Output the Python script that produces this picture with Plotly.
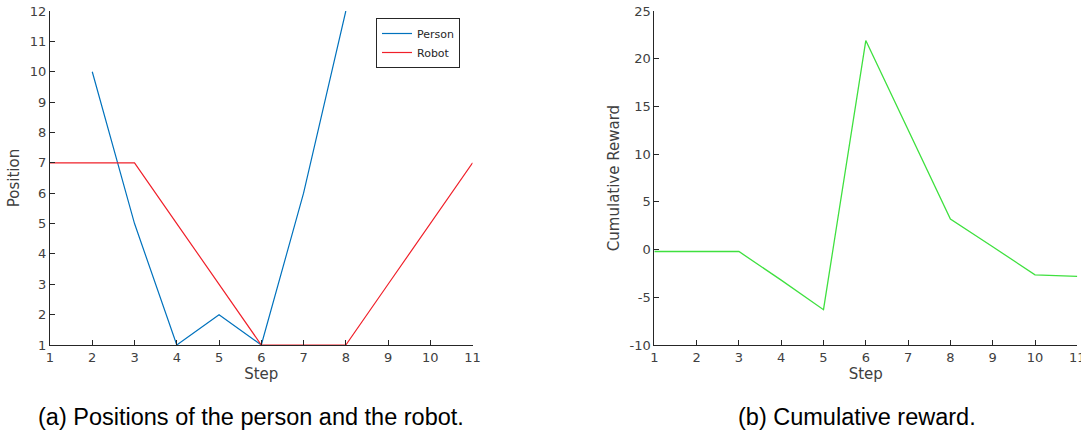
import plotly.graph_objects as go

steps = list(range(1, 12))
person_steps = [2, 3, 4, 5, 6, 7, 8]
person_pos = [10, 5, 1, 2, 1, 6, 12]
robot_pos = [7, 7, 7, 5, 3, 1, 1, 1, 3, 5, 7]
reward = [-0.2, -0.2, -0.2, -3.2, -6.3, 21.9, 12.5, 3.2, 0.3, -2.65, -2.8]
reward_ticks = [-10, -5, 0, 5, 10, 15, 20, 25]
reward_ticktext = [str(v) for v in reward_ticks]

W, H = 1081, 434
BLUE = "#0072BD"
RED = "#F0202A"
GREEN = "#3fe03f"
AXC = "#262626"
TICKC = "#404040"
FONT = "DejaVu Sans"

fig = go.Figure()
fig.add_trace(go.Scatter(x=person_steps, y=person_pos, mode="lines", name="Person",
                         line=dict(color=BLUE, width=1.2), xaxis="x", yaxis="y"))
fig.add_trace(go.Scatter(x=steps, y=robot_pos, mode="lines", name="Robot",
                         line=dict(color=RED, width=1.2), xaxis="x", yaxis="y"))
fig.add_trace(go.Scatter(x=steps, y=reward, mode="lines", name="Reward", showlegend=False,
                         line=dict(color=GREEN, width=1.3), xaxis="x2", yaxis="y2"))

ydom = [(H - 345) / H, (H - 11) / H]
common = dict(showline=True, linecolor=AXC, linewidth=1, ticks="inside", ticklen=5,
              tickcolor=AXC, showgrid=False, zeroline=False, mirror=False, automargin=False,
              ticklabeloverflow="allow",
              tickfont=dict(family=FONT, size=13, color=TICKC),
              title_font=dict(family=FONT, size=15, color=TICKC))

fig.update_layout(
    template="none",
    width=W, height=H,
    margin=dict(l=0, r=0, t=0, b=0, pad=0),
    paper_bgcolor="white", plot_bgcolor="white",
    xaxis=dict(domain=[50 / W, 472.6 / W], range=[1, 11], dtick=1, anchor="y",
               title=dict(text="Step", standoff=4), **common),
    yaxis=dict(domain=ydom, range=[1, 12], dtick=1, anchor="x",
               title=dict(text="Position", standoff=6), **common),
    xaxis2=dict(domain=[654.3 / W, 1077.3 / W], range=[1, 11], dtick=1, anchor="y2",
                title=dict(text="Step", standoff=4), **common),
    yaxis2=dict(domain=ydom, range=[-10, 25], tickvals=reward_ticks, ticktext=reward_ticktext,
                anchor="x2", title=dict(text="Cumulative Reward", standoff=6), **common),
    legend=dict(x=460 / W, y=(H - 18) / H, xanchor="right", yanchor="top",
                bordercolor=AXC, borderwidth=1, bgcolor="white",
                font=dict(family=FONT, size=11, color="#262626"),
                tracegroupgap=0, itemwidth=30),
    annotations=[
        dict(text="(a) Positions of the person and the robot.", x=251 / W, y=(H - 417) / H,
             xref="paper", yref="paper", showarrow=False, xanchor="center", yanchor="middle",
             font=dict(family="Liberation Sans", size=23.5, color="black")),
        dict(text="(b) Cumulative reward.", x=857 / W, y=(H - 417) / H,
             xref="paper", yref="paper", showarrow=False, xanchor="center", yanchor="middle",
             font=dict(family="Liberation Sans", size=23.5, color="black")),
    ],
)

fig.write_html("out.html", config={"displayModeBar": False},
               post_script="document.body.style.margin='0';document.body.style.overflow='hidden';")
